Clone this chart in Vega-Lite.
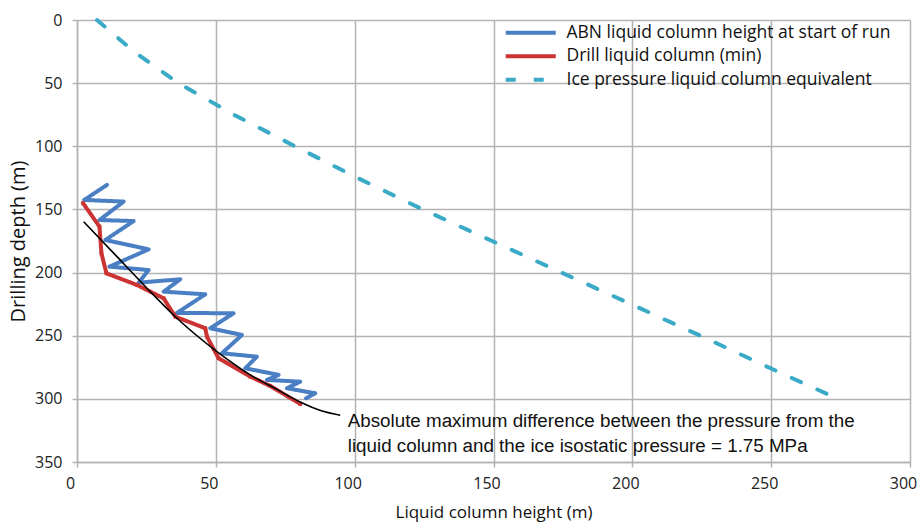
{
  "$schema": "https://vega.github.io/schema/vega-lite/v6.json",
  "width": 833,
  "height": 442,
  "autosize": {"type": "none"},
  "padding": {"left": 77, "top": 20, "right": 10, "bottom": 62},
  "background": "white",
  "config": {"view": {"stroke": null}, "font": "Open Sans"},
  "datasets": {
    "series": [
      {"series": "ABN liquid column height at start of run", "i": 1, "height": 10.8, "depth": 130.6},
      {"series": "ABN liquid column height at start of run", "i": 2, "height": 2.6, "depth": 142.5},
      {"series": "ABN liquid column height at start of run", "i": 3, "height": 16.8, "depth": 143.8},
      {"series": "ABN liquid column height at start of run", "i": 4, "height": 8.1, "depth": 158.4},
      {"series": "ABN liquid column height at start of run", "i": 5, "height": 20.4, "depth": 159.2},
      {"series": "ABN liquid column height at start of run", "i": 6, "height": 10.2, "depth": 174.2},
      {"series": "ABN liquid column height at start of run", "i": 7, "height": 25.8, "depth": 181.6},
      {"series": "ABN liquid column height at start of run", "i": 8, "height": 11.7, "depth": 195.3},
      {"series": "ABN liquid column height at start of run", "i": 9, "height": 25.8, "depth": 198.0},
      {"series": "ABN liquid column height at start of run", "i": 10, "height": 22.2, "depth": 208.0},
      {"series": "ABN liquid column height at start of run", "i": 11, "height": 37.2, "depth": 205.3},
      {"series": "ABN liquid column height at start of run", "i": 12, "height": 31.2, "depth": 215.1},
      {"series": "ABN liquid column height at start of run", "i": 13, "height": 46.2, "depth": 217.2},
      {"series": "ABN liquid column height at start of run", "i": 14, "height": 36.0, "depth": 232.0},
      {"series": "ABN liquid column height at start of run", "i": 15, "height": 56.4, "depth": 232.2},
      {"series": "ABN liquid column height at start of run", "i": 16, "height": 48.0, "depth": 244.1},
      {"series": "ABN liquid column height at start of run", "i": 17, "height": 59.4, "depth": 249.4},
      {"series": "ABN liquid column height at start of run", "i": 18, "height": 52.2, "depth": 263.9},
      {"series": "ABN liquid column height at start of run", "i": 19, "height": 64.8, "depth": 266.6},
      {"series": "ABN liquid column height at start of run", "i": 20, "height": 60.6, "depth": 275.8},
      {"series": "ABN liquid column height at start of run", "i": 21, "height": 72.6, "depth": 281.0},
      {"series": "ABN liquid column height at start of run", "i": 22, "height": 68.4, "depth": 285.0},
      {"series": "ABN liquid column height at start of run", "i": 23, "height": 80.4, "depth": 286.4},
      {"series": "ABN liquid column height at start of run", "i": 24, "height": 75.6, "depth": 291.6},
      {"series": "ABN liquid column height at start of run", "i": 25, "height": 85.8, "depth": 295.6},
      {"series": "ABN liquid column height at start of run", "i": 26, "height": 82.5, "depth": 299.5},
      {"series": "Drill liquid column (min)", "i": 1, "height": 2.2, "depth": 145.1},
      {"series": "Drill liquid column (min)", "i": 2, "height": 8.1, "depth": 163.6},
      {"series": "Drill liquid column (min)", "i": 3, "height": 8.8, "depth": 184.7},
      {"series": "Drill liquid column (min)", "i": 4, "height": 10.6, "depth": 200.6},
      {"series": "Drill liquid column (min)", "i": 5, "height": 21.6, "depth": 209.8},
      {"series": "Drill liquid column (min)", "i": 6, "height": 31.2, "depth": 220.4},
      {"series": "Drill liquid column (min)", "i": 7, "height": 35.4, "depth": 234.9},
      {"series": "Drill liquid column (min)", "i": 8, "height": 46.2, "depth": 244.1},
      {"series": "Drill liquid column (min)", "i": 9, "height": 46.8, "depth": 250.7},
      {"series": "Drill liquid column (min)", "i": 10, "height": 51.0, "depth": 267.9},
      {"series": "Drill liquid column (min)", "i": 11, "height": 62.4, "depth": 282.4},
      {"series": "Drill liquid column (min)", "i": 12, "height": 69.6, "depth": 289.8},
      {"series": "Drill liquid column (min)", "i": 13, "height": 80.4, "depth": 304.0},
      {"series": "Ice pressure liquid column equivalent", "i": 1, "height": 7.2, "depth": 0},
      {"series": "Ice pressure liquid column equivalent", "i": 2, "height": 20.5, "depth": 25},
      {"series": "Ice pressure liquid column equivalent", "i": 3, "height": 36.5, "depth": 50},
      {"series": "Ice pressure liquid column equivalent", "i": 4, "height": 56.5, "depth": 75},
      {"series": "Ice pressure liquid column equivalent", "i": 5, "height": 78.5, "depth": 100},
      {"series": "Ice pressure liquid column equivalent", "i": 6, "height": 101.0, "depth": 125},
      {"series": "Ice pressure liquid column equivalent", "i": 7, "height": 124.5, "depth": 150},
      {"series": "Ice pressure liquid column equivalent", "i": 8, "height": 149.5, "depth": 175},
      {"series": "Ice pressure liquid column equivalent", "i": 9, "height": 174.5, "depth": 200},
      {"series": "Ice pressure liquid column equivalent", "i": 10, "height": 199.5, "depth": 225},
      {"series": "Ice pressure liquid column equivalent", "i": 11, "height": 224.5, "depth": 250},
      {"series": "Ice pressure liquid column equivalent", "i": 12, "height": 249.0, "depth": 275},
      {"series": "Ice pressure liquid column equivalent", "i": 13, "height": 274.0, "depth": 300}
    ],
    "fit": [
      {"height": 2.4, "depth": 159.7},
      {"height": 13.8, "depth": 186.0},
      {"height": 25.2, "depth": 212.4},
      {"height": 36.0, "depth": 236.2},
      {"height": 50.4, "depth": 262.6},
      {"height": 62.4, "depth": 281.0},
      {"height": 72.0, "depth": 292.5},
      {"height": 80.4, "depth": 302.5},
      {"height": 88.0, "depth": 309.5},
      {"height": 94.8, "depth": 313.0}
    ],
    "note": [
      {"height": 97.5, "depth": 317.5, "text": "Absolute maximum difference between the pressure from the"},
      {"height": 97.5, "depth": 337.5, "text": "liquid column and the ice isostatic pressure = 1.75 MPa"}
    ]
  },
  "layer": [
    {
      "data": {"name": "series"},
      "mark": {"type": "line", "strokeWidth": 4, "strokeCap": "round", "strokeJoin": "round"},
      "encoding": {
        "x": {
          "field": "height", "type": "quantitative",
          "scale": {"domain": [0, 300], "nice": false},
          "axis": {
            "values": [0, 50, 100, 150, 200, 250, 300],
            "title": "Liquid column height (m)",
            "grid": true, "gridColor": "#b3b3b3", "gridWidth": 1.5,
            "domainColor": "#b3b3b3", "domainWidth": 1.5,
            "tickColor": "#b3b3b3", "tickSize": 5, "tickWidth": 1.5,
            "labelFont": "Open Sans", "labelFontSize": 16, "labelColor": "#222222",
            "labelPadding": 8, "labelOffset": -7, "labelFlush": false,
            "titleFont": "Open Sans", "titleFontSize": 17, "titleFontWeight": "normal",
            "titleColor": "#111111", "titlePadding": 13
          }
        },
        "y": {
          "field": "depth", "type": "quantitative",
          "scale": {"domain": [0, 350], "reverse": true, "nice": false},
          "axis": {
            "values": [0, 50, 100, 150, 200, 250, 300, 350],
            "title": "Drilling depth (m)",
            "grid": true, "gridColor": "#b3b3b3", "gridWidth": 1.5,
            "domainColor": "#b3b3b3", "domainWidth": 1.5,
            "tickColor": "#b3b3b3", "tickSize": 5, "tickWidth": 1.5,
            "labelFont": "Open Sans", "labelFontSize": 16, "labelColor": "#222222",
            "labelPadding": 10, "labelFlush": false,
            "titleFont": "Open Sans", "titleFontSize": 20, "titleFontWeight": "normal",
            "titleColor": "#111111", "titlePadding": 6
          }
        },
        "order": {"field": "i", "type": "quantitative"},
        "color": {
          "field": "series", "type": "nominal",
          "scale": {
            "domain": ["ABN liquid column height at start of run", "Drill liquid column (min)", "Ice pressure liquid column equivalent"],
            "range": ["#4a7fc4", "#cc3333", "#3aaac6"]
          },
          "legend": {
            "title": null, "orient": "none", "legendX": 445, "legendY": 4,
            "symbolType": "M-5,0H5", "symbolSize": 100, "symbolStrokeWidth": 4,
            "labelFont": "Open Sans", "labelFontSize": 17.5, "labelColor": "#111111",
            "labelOffset": 27, "rowPadding": 4.5, "labelLimit": 500
          }
        },
        "strokeDash": {
          "field": "series", "type": "nominal",
          "scale": {
            "domain": ["ABN liquid column height at start of run", "Drill liquid column (min)", "Ice pressure liquid column equivalent"],
            "range": [[1, 0], [1, 0], [10, 18]]
          },
          "legend": {
            "title": null, "orient": "none", "legendX": 445, "legendY": 4,
            "symbolType": "M-5,0H5", "symbolSize": 100, "symbolStrokeWidth": 4,
            "labelFont": "Open Sans", "labelFontSize": 17.5, "labelColor": "#111111",
            "labelOffset": 27, "rowPadding": 4.5, "labelLimit": 500
          }
        }
      }
    },
    {
      "data": {"name": "series"},
      "transform": [{"filter": "datum.series === 'Drill liquid column (min)'"}],
      "mark": {"type": "point", "shape": "square", "filled": true, "size": 14, "color": "#cc3333", "opacity": 1},
      "encoding": {
        "x": {"field": "height", "type": "quantitative"},
        "y": {"field": "depth", "type": "quantitative"}
      }
    },
    {
      "data": {"name": "fit"},
      "mark": {"type": "line", "color": "#000000", "strokeWidth": 1.6, "interpolate": "monotone"},
      "encoding": {
        "x": {"field": "height", "type": "quantitative"},
        "y": {"field": "depth", "type": "quantitative"},
        "order": {"field": "depth", "type": "quantitative"}
      }
    },
    {
      "data": {"name": "note"},
      "mark": {"type": "text", "align": "left", "baseline": "middle", "font": "Liberation Sans", "fontSize": 18.8, "color": "#111111"},
      "encoding": {
        "x": {"field": "height", "type": "quantitative"},
        "y": {"field": "depth", "type": "quantitative"},
        "text": {"field": "text"}
      }
    }
  ]
}
